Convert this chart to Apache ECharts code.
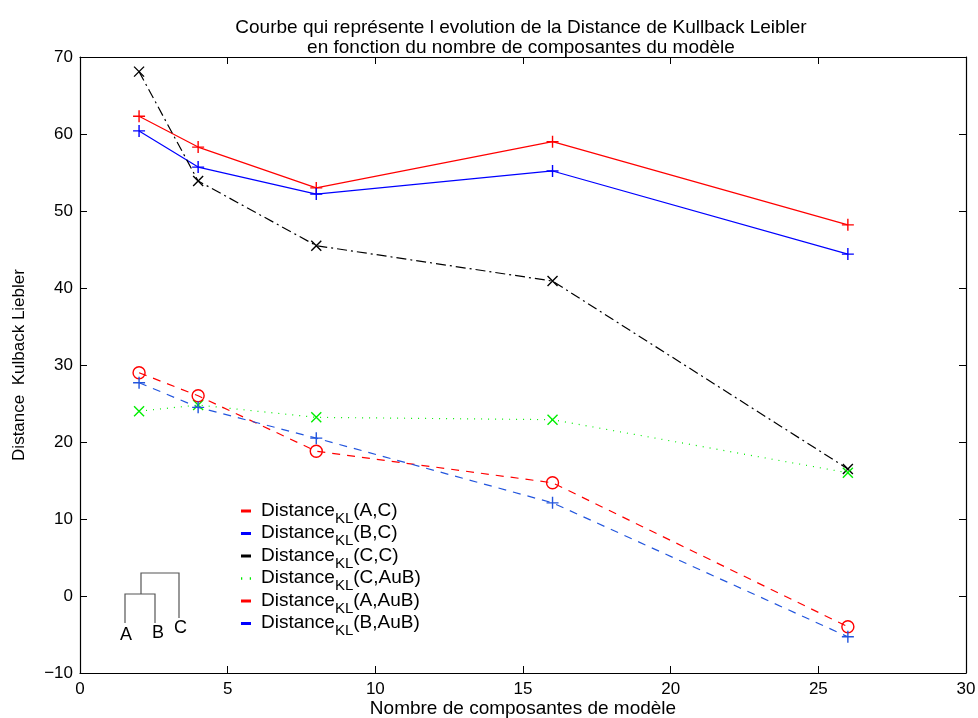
<!DOCTYPE html>
<html><head><meta charset="utf-8">
<script src="https://cdn.jsdelivr.net/npm/echarts@6/dist/echarts.min.js"></script>
<style>html,body{margin:0;padding:0;background:#fff}#c{width:978px;height:718px}</style>
</head><body><div id="c"></div>
<script>
const xValues = [2, 4, 8, 16, 26];
const distAC   = [62.3, 58.3, 53.0, 59.0, 48.2];
const distBC   = [60.4, 55.7, 52.2, 55.2, 44.4];
const distCC   = [68.1, 53.9, 45.5, 40.9, 16.5];
const distCAuB = [24.0, 24.8, 23.2, 22.9, 16.0];
const distAAuB = [29.0, 26.0, 18.8, 14.7, -4.0];
const distBAuB = [27.7, 24.5, 20.5, 12.1, -5.3];
const legendNames = ['A,C', 'B,C', 'C,C', 'C,AuB', 'A,AuB', 'B,AuB'];
const legendColors = ['#ff0000', '#0000ff', '#000000', '#00ee00', '#ff0000', '#0000ff'];

const FONT = 'Liberation Sans, Arial, Helvetica, sans-serif';
const PLUS = 'path://M0,5L10,5M5,0L5,10';
const CROSS = 'path://M0,0L10,10M10,0L0,10';
const CIRC = 'path://M10,5A5,5,0,1,1,0,5A5,5,0,1,1,10,5Z';
const BAR = 'path://M0,9h10v3h-10z';
const DOTS = 'path://M1,9h1v2h-1zM8,9h1v2h-1z';

function pts(arr){ return xValues.map((x,i)=>[x,arr[i]]); }
function mk(name, arr, color, type, sym, size, lw){
  return {
    name, type:'line', data: pts(arr), symbol: sym, symbolSize: size,
    showSymbol:true, animation:false,
    lineStyle:{color, width: lw||1.2, type},
    itemStyle:{color:'transparent', borderColor:color, borderWidth:1.4},
    emphasis:{disabled:true}
  };
}

const chart = echarts.init(document.getElementById('c'), null, {renderer:'canvas'});
const axisCommon = {
  axisLine:{show:true, onZero:false, lineStyle:{color:'#000', width:1.2}},
  axisTick:{show:true, inside:true, length:7, lineStyle:{color:'#000'}},
  splitLine:{show:false}
};
chart.setOption({
  backgroundColor:'#fff',
  animation:false,
  title:{
    text:'Courbe qui représente l evolution de la Distance de Kullback Leibler\nen fonction du nombre de composantes du modèle',
    left: 516, top: 13, textAlign:'center',
    textStyle:{fontFamily:FONT, fontSize:19, fontWeight:'normal', color:'#000', lineHeight:20}
  },
  grid:{left:80, right:12, top:57, bottom:45, containLabel:false, outerBoundsMode:'none'},
  legend:{
    orient:'vertical', left:236, top:496, itemGap:-2.5,
    itemWidth:10, itemHeight:20,
    data: legendNames.map((n,i)=>({
      name:n, icon: n==='C,AuB' ? DOTS : BAR,
      itemStyle:{color:legendColors[i], borderWidth:0}
    })),
    formatter: n => '{d|Distance}{s|KL}{m|(' + n + ')}',
    textStyle:{
      fontFamily:FONT, color:'#000',
      rich:{
        d:{fontFamily:FONT, fontSize:19, color:'#000', lineHeight:20, verticalAlign:'top', padding:[0,0,0,5]},
        m:{fontFamily:FONT, fontSize:19, color:'#000', lineHeight:20, verticalAlign:'top'},
        s:{fontFamily:FONT, fontSize:15, color:'#000', lineHeight:20, padding:[10,0,0,0], verticalAlign:'top'}
      }
    },
    selectedMode:false
  },
  xAxis:[
    Object.assign({type:'value', min:0, max:30, interval:5, position:'bottom',
      name:'Nombre de composantes de modèle', nameLocation:'middle', nameGap:26, nameMoveOverlap:false,
      nameTextStyle:{fontFamily:FONT, fontSize:19, color:'#000'},
      axisLabel:{fontFamily:FONT, fontSize:17, color:'#000', margin:8}}, axisCommon),
    Object.assign({type:'value', min:0, max:30, interval:5, position:'top',
      axisLabel:{show:false}}, axisCommon)
  ],
  yAxis:[
    Object.assign({type:'value', min:-10, max:70, interval:10, position:'left',
      name:'Distance  Kulback Liebler', nameLocation:'middle', nameGap:52, nameRotate:90, nameMoveOverlap:false,
      nameTextStyle:{fontFamily:FONT, fontSize:17, color:'#000'},
      axisLabel:{fontFamily:FONT, fontSize:17, color:'#000', margin:7,
        formatter: v => String(v).replace('-', '\u2212')}}, axisCommon),
    Object.assign({type:'value', min:-10, max:70, interval:10, position:'right',
      axisLabel:{show:false}}, axisCommon)
  ],
  series:[
    mk('A,C', distAC, '#ff0000', 'solid', PLUS, 12),
    mk('B,C', distBC, '#0000ff', 'solid', PLUS, 12),
    mk('C,C', distCC, '#000000', [10,4,2,4], CROSS, 10),
    mk('C,AuB', distCAuB, '#00ee00', [1,6], CROSS, 10),
    mk('A,AuB', distAAuB, '#ff0000', [8,7], CIRC, 12),
    mk('B,AuB', distBAuB, '#2255dd', [8,7], PLUS, 12)
  ],
  graphic:[
    {type:'polyline', shape:{points:[[125,623],[125,594],[155,594],[155,623]]}, style:{stroke:'#555', lineWidth:1.2, fill:null}},
    {type:'polyline', shape:{points:[[141,594],[141,573],[179,573],[179,618]]}, style:{stroke:'#555', lineWidth:1.2, fill:null}},
    {type:'text', left:120, top:626, style:{text:'A', font:'18px '+FONT, fill:'#000'}},
    {type:'text', left:152, top:624, style:{text:'B', font:'18px '+FONT, fill:'#000'}},
    {type:'text', left:174, top:619, style:{text:'C', font:'18px '+FONT, fill:'#000'}}
  ]
});
</script></body></html>
